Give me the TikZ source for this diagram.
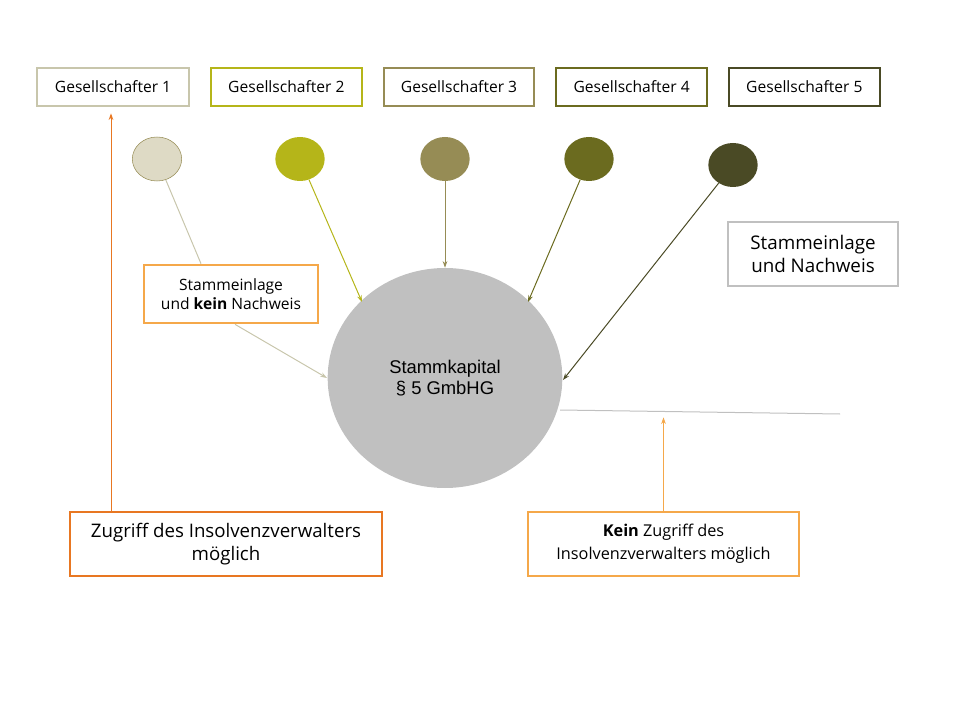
\documentclass[tikz,border=0pt]{standalone}
\usepackage{fontspec}
\setmainfont{Open Sans}
\newfontfamily\arialfont{Liberation Sans}
\usepackage{tikz}
\usetikzlibrary{arrows.meta,positioning,shapes.geometric}
\definecolor{gsone}{RGB}{200,198,172}
\definecolor{gsonefill}{RGB}{222,218,197}
\definecolor{gstwo}{RGB}{181,181,25}
\definecolor{gsthree}{RGB}{150,140,85}
\definecolor{gsfour}{RGB}{107,107,31}
\definecolor{gsfive}{RGB}{74,74,37}
\definecolor{kapitalgray}{RGB}{192,192,192}
\definecolor{zugriffdark}{RGB}{232,119,34}
\definecolor{zugrifflight}{RGB}{245,168,74}

\begin{document}
\begin{tikzpicture}[x=0.75pt,y=-0.75pt,font=\fontsize{11.7pt}{14pt}\selectfont,
  >={Stealth[length=5pt,width=3.5pt]}]
  \useasboundingbox (0,0) rectangle (960,720);

  % Gesellschafter
  \node[draw,line width=1.5pt,draw=gsone,minimum width=114pt,minimum height=28pt]
        (g1) at (113,87) {Gesellschafter 1};
  \node[draw,line width=1.5pt,draw=gstwo,minimum width=113pt,minimum height=28pt,right=15pt of g1]
        (g2) {Gesellschafter 2};
  \node[draw,line width=1.5pt,draw=gsthree,minimum width=113pt,minimum height=28pt,right=15pt of g2]
        (g3) {Gesellschafter 3};
  \node[draw,line width=1.5pt,draw=gsfour,minimum width=113pt,minimum height=28pt,right=15pt of g3]
        (g4) {Gesellschafter 4};
  \node[draw,line width=1.5pt,draw=gsfive,minimum width=113pt,minimum height=28pt,right=15pt of g4]
        (g5) {Gesellschafter 5};

  % Einlagen
  \node[ellipse,draw=gsthree,fill=gsonefill,minimum width=37pt,minimum height=33pt,inner sep=0pt]
        (c1) at (157,159) {};
  \node[ellipse,fill=gstwo,minimum width=37pt,minimum height=33pt,inner sep=0pt]
        (c2) at (300,159) {};
  \node[ellipse,fill=gsthree,minimum width=37pt,minimum height=33pt,inner sep=0pt]
        (c3) at (445,159) {};
  \node[ellipse,fill=gsfour,minimum width=37pt,minimum height=33pt,inner sep=0pt]
        (c4) at (589,159) {};
  \node[ellipse,fill=gsfive,minimum width=37pt,minimum height=33pt,inner sep=0pt]
        (c5) at (733,165) {};

  \node[ellipse,fill=kapitalgray,minimum width=176pt,minimum height=165pt,align=center,
        font=\arialfont\fontsize{13.8pt}{16pt}\selectfont]
        (kapital) at (445,378) {Stammkapital\\\S{} 5 GmbHG};

  \node[draw,line width=1.5pt,draw=zugrifflight,fill=white,minimum width=130pt,minimum height=44pt,
        align=center] (kein) at (231,294) {Stammeinlage\\und \textbf{kein} Nachweis};
  \node[draw,line width=1.5pt,draw=kapitalgray,minimum width=127pt,minimum height=48pt,
        align=center,font=\fontsize{14.1pt}{17pt}\selectfont]
        (nachweis) at (813,254) {Stammeinlage\\und Nachweis};

  \node[draw,line width=1.5pt,draw=zugriffdark,minimum width=234pt,minimum height=48pt,
        align=center,font=\fontsize{14pt}{17pt}\selectfont]
        (zugriff) at (226,544) {Zugriff des Insolvenzverwalters\\möglich};
  \node[draw,line width=1.5pt,draw=zugrifflight,minimum width=203pt,minimum height=48pt,
        align=center,font=\fontsize{12.2pt}{17pt}\selectfont]
        (keinzugriff) at (663.5,544) {\textbf{Kein} Zugriff des\\Insolvenzverwalters möglich};

  \coordinate (trennstart) at (560,410);
  \coordinate (trennend) at (840,414);
  \coordinate (trennmitte) at (663.5,412);
  \coordinate (ziel1) at (327,378);
  \coordinate (ziel2) at (362,302);
  \coordinate (ziel4) at (528,302);
  \coordinate (ziel5) at (563,380);

  \draw[gsone,line width=0.75pt] (c1) -- ([xshift=-22.5pt]kein.north);
  \draw[->,gsone,line width=0.75pt] ([xshift=3pt]kein.south) -- (ziel1);
  \draw[->,gstwo,line width=0.75pt] (c2) -- (ziel2);
  \draw[->,gsthree,line width=0.75pt] (c3) -- (kapital);
  \draw[->,gsfour,line width=0.75pt] (c4) -- (ziel4);
  \draw[->,gsfive,line width=0.75pt] (c5) -- (ziel5);

  \draw[kapitalgray,line width=0.75pt] (trennstart) -- (trennend);
  \draw[->,zugrifflight,line width=0.75pt] (keinzugriff.north) -- ([yshift=-4pt]trennmitte);
  \draw[->,zugriffdark,line width=0.75pt] ([xshift=-1.5pt]zugriff.north -| g1.south) -- ([xshift=-1.5pt,yshift=-5pt]g1.south);

\end{tikzpicture}
\end{document}
